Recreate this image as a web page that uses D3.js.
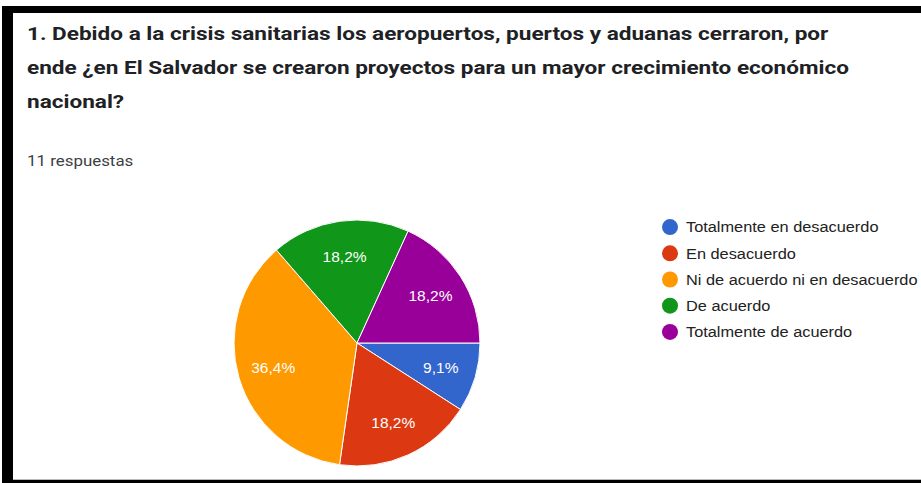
<!DOCTYPE html>
<html><head><meta charset="utf-8">
<script src="https://cdn.jsdelivr.net/npm/d3@7"></script>
<style>html,body{margin:0;padding:0;background:#fff;}svg{display:block;}</style>
</head><body>
<svg id="c" width="921" height="483"></svg>
<script>
const titleLines = [
  "1. Debido a la crisis sanitarias los aeropuertos, puertos y aduanas cerraron, por",
  "ende ¿en El Salvador se crearon proyectos para un mayor crecimiento económico",
  "nacional?"
];
const subtitle = "11 respuestas";
const categories = ["Totalmente en desacuerdo","En desacuerdo","Ni de acuerdo ni en desacuerdo","De acuerdo","Totalmente de acuerdo"];
const counts = [1, 2, 4, 2, 2];
const labels = ["9,1%","18,2%","36,4%","18,2%","18,2%"];
const colors = ["#3366cc","#dc3912","#ff9900","#109618","#990099"];

const svg = d3.select("#c");
const font = "Roboto, 'Noto Sans', sans-serif";
const arial = "'Liberation Sans', Arial, sans-serif";

// frame
svg.append("rect").attr("x",0).attr("y",0).attr("width",921).attr("height",483).attr("fill","#fff");
svg.append("rect").attr("x",2).attr("y",6).attr("width",919).attr("height",7).attr("fill","#000");
svg.append("rect").attr("x",2).attr("y",6).attr("width",11).attr("height",477).attr("fill","#000");
svg.append("rect").attr("x",2).attr("y",480).attr("width",919).attr("height",3).attr("fill","#000");
svg.append("rect").attr("x",13).attr("y",479).attr("width",908).attr("height",1).attr("fill","#bbb");

// title (reference is horizontally stretched)
const tg = svg.append("g").attr("transform","translate(27,0) scale(1.22,1)");
tg.selectAll("text").data(titleLines).join("text")
  .attr("x",0).attr("y",(d,i)=>40+i*34)
  .attr("font-family",font).attr("font-weight","bold").attr("font-size",18.5)
  .attr("fill","#202124").text(d=>d);

svg.append("g").attr("transform","translate(27,0) scale(1.09,1)")
  .append("text").attr("x",0).attr("y",166)
  .attr("font-family",font).attr("font-size",15.5).attr("fill","#3c4043").text(subtitle);

// pie
const cx = 357, cy = 343, r = 123;
const pie = d3.pie().sort(null).value(d=>d).startAngle(Math.PI/2).endAngle(Math.PI/2 + 2*Math.PI);
const arcs = pie(counts);
const arc = d3.arc().innerRadius(0).outerRadius(r);
const labelArc = d3.arc().innerRadius(r*0.71).outerRadius(r*0.71);
const g = svg.append("g").attr("transform",`translate(${cx},${cy})`);
g.selectAll("path").data(arcs).join("path")
  .attr("d",arc).attr("fill",(d,i)=>colors[i]).attr("stroke","#fff").attr("stroke-width",1);
g.selectAll("text").data(arcs).join("text")
  .attr("transform",d=>`translate(${labelArc.centroid(d)})`)
  .attr("text-anchor","middle").attr("dy","0.35em")
  .attr("font-family",arial).attr("font-size",15.5).attr("fill","#fff")
  .text((d,i)=>labels[i]);

// legend
const ly = d3.scaleBand().domain(categories).range([214, 345]);
const lg = svg.append("g");
const rows = lg.selectAll("g").data(categories).join("g")
  .attr("transform",d=>`translate(0,${ly(d)+ly.bandwidth()/2})`);
rows.append("circle").attr("cx",670).attr("cy",0).attr("r",8).attr("fill",(d,i)=>colors[i]);
rows.append("text").attr("transform","translate(686,0) scale(1.09,1)").attr("dy","0.35em")
  .attr("font-family",arial).attr("font-size",15).attr("fill","#222").text(d=>d);
</script>
</body></html>
